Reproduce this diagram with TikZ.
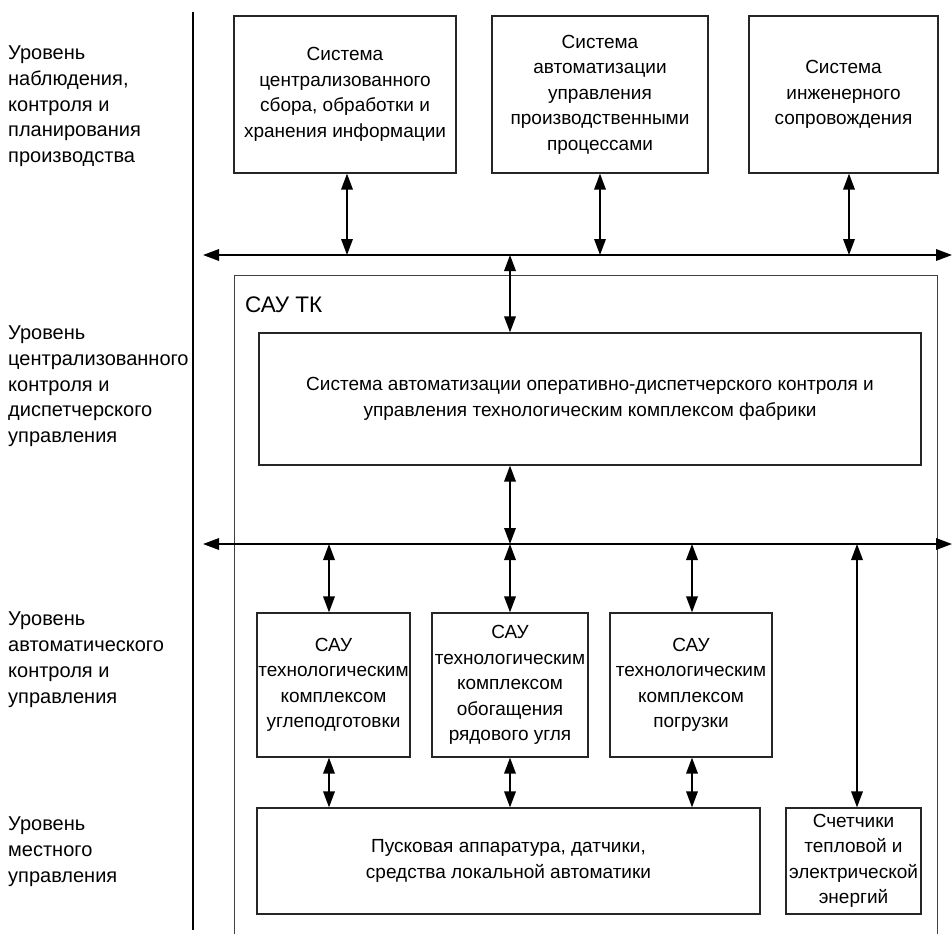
\documentclass[tikz,border=0pt]{standalone}
\usepackage{fontspec}
\setmainfont{Liberation Sans}
\usetikzlibrary{arrows.meta}
\begin{document}
\begin{tikzpicture}[x=1pt,y=-1pt,
  box/.style={draw=black!85, line width=1.2pt, align=center, inner sep=0pt, font=\fontsize{19}{25.5}\selectfont},
  tip/.tip={Triangle[length=16pt,width=11.5pt]},
  conn/.style={line width=1.8pt, tip-tip},
  bus/.style={line width=1.8pt, tip-tip},
  frame/.style={draw=black!75, line width=1pt},
  lvl/.style={anchor=north west, align=left, inner sep=0pt, font=\fontsize{20}{25.8}\selectfont}]
\useasboundingbox (0,0) rectangle (952,934);

% level labels
\node[lvl] (l1) at (8,45.5) {Уровень\\наблюдения,\\контроля и\\планирования\\производства};
\node[lvl] (l2) at (8,325.5) {Уровень\\централизованного\\контроля и\\диспетчерского\\управления};
\node[lvl] (l3) at (8,612) {Уровень\\автоматического\\контроля и\\управления};
\node[lvl] (l4) at (8,817) {Уровень\\местного\\управления};

% divider
\draw[line width=1.5pt] (193,12) -- (193,930);

% САУ ТК frame (open at bottom)
\draw[frame] (234,934) -- (234,275) -- (937,275) -- (937,934);
\node[anchor=base west, inner sep=0pt, font=\fontsize{22.5}{27}\selectfont] (sautk) at (245,312) {САУ ТК};

% top boxes
\node[box, minimum width=222pt, minimum height=157pt] (b1) at (345,94.5) {Система\\централизованного\\сбора, обработки и\\хранения информации};
\node[box, minimum width=216pt, minimum height=157pt] (b2) at (600,94.5) {Система\\автоматизации\\управления\\производственными\\процессами};
\node[box, minimum width=189pt, minimum height=157pt] (b3) at (843.5,94.5) {Система\\инженерного\\сопровождения};

% inner box
\node[box, minimum width=662pt, minimum height=132pt] (ods) at (590,399) {Система автоматизации оперативно-диспетчерского контроля и\\управления технологическим комплексом фабрики};

% SAU boxes
\node[box, minimum width=153pt, minimum height=144pt] (sa) at (333.5,685) {САУ\\технологическим\\комплексом\\углеподготовки};
\node[box, minimum width=156pt, minimum height=144pt] (sb) at (510,685) {САУ\\технологическим\\комплексом\\обогащения\\рядового угля};
\node[box, minimum width=162pt, minimum height=144pt] (sc) at (691,685) {САУ\\технологическим\\комплексом\\погрузки};

% bottom boxes
\node[box, minimum width=503pt, minimum height=106pt] (pusk) at (508.5,861) {Пусковая аппаратура, датчики,\\средства локальной автоматики};
\node[box, minimum width=135pt, minimum height=106pt] (sch) at (853.5,861) {Счетчики\\тепловой и\\электрической\\энергий};

% buses
\coordinate (busAL) at (203,255);
\coordinate (busAR) at (952,255);
\coordinate (busBL) at (203,544);
\coordinate (busBR) at (952,544);
\draw[bus] (busAL) -- (busAR);
\draw[bus] (busBL) -- (busBR);

% top connectors
\coordinate (t1) at (347,255);
\coordinate (t2) at (600,255);
\coordinate (t3) at (849,255);
\coordinate (t4) at (510,255);
\draw[conn] (b1.south -| t1) -- (t1);
\draw[conn] (b2.south -| t2) -- (t2);
\draw[conn] (b3.south -| t3) -- (t3);
\draw[conn] (t4) -- (ods.north -| t4);

% middle connectors
\coordinate (m0) at (510,544);
\coordinate (m1) at (329,544);
\coordinate (m2) at (510,544);
\coordinate (m3) at (692,544);
\coordinate (m4) at (857,544);
\draw[conn] (ods.south -| m0) -- (m0);
\draw[conn] (m1) -- (sa.north -| m1);
\draw[conn] (m2) -- (sb.north -| m2);
\draw[conn] (m3) -- (sc.north -| m3);
\draw[conn] (m4) -- (sch.north -| m4);

% bottom connectors
\coordinate (d1) at (329,0);
\coordinate (d2) at (510,0);
\coordinate (d3) at (692,0);
\draw[conn] (sa.south -| d1) -- (pusk.north -| d1);
\draw[conn] (sb.south -| d2) -- (pusk.north -| d2);
\draw[conn] (sc.south -| d3) -- (pusk.north -| d3);
\end{tikzpicture}
\end{document}
